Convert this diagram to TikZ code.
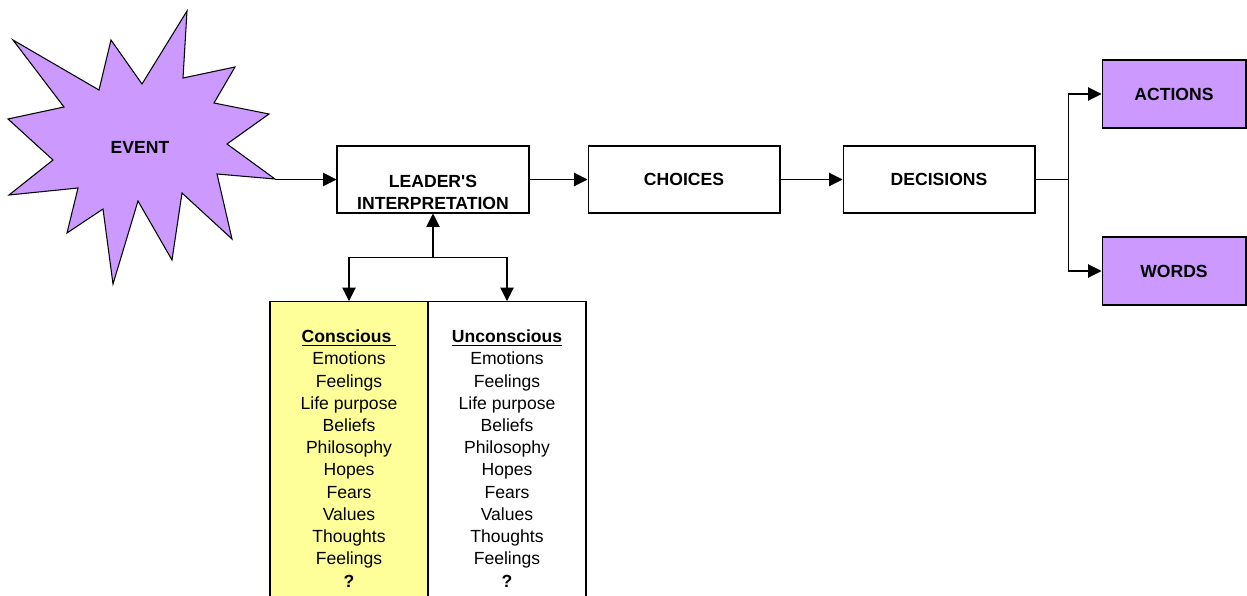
\documentclass[tikz,border=0pt]{standalone}
\usepackage{fontspec}
\setmainfont{Liberation Sans}
\usetikzlibrary{arrows.meta,positioning}

\definecolor{eventpurple}{HTML}{CC99FF}
\definecolor{consyellow}{HTML}{FFFF99}

\tikzset{
  procbox/.style={draw,line width=0.6pt,minimum width=3.84cm,minimum height=1.34cm,inner sep=0pt,font=\bfseries},
  outbox/.style={procbox,fill=eventpurple,minimum width=2.88cm,minimum height=1.36cm},
  colbox/.style={draw,line width=0.6pt,anchor=north,minimum width=3.16cm,minimum height=6.4cm},
  coltext/.style={anchor=north,align=center,inner sep=0pt,font=\fontsize{10}{12.65}\selectfont},
  link/.style={line width=0.6pt,-{Triangle[length=7.6pt,width=7.6pt]}}
}

\begin{document}
\begin{tikzpicture}[x=0.02cm,y=-0.02cm]
  \clip (0,0) rectangle (1247,595);
  \fill[white] (0,0) rectangle (1247,595);
  \draw[fill=eventpurple,line width=0.6pt] (13,40) -- (99,90) -- (111,40) -- (142,84) -- (187,11) -- (183,78) -- (235,67) -- (214,103) -- (269,114) -- (227,144) -- (275,179) -- (217,174) -- (232,239) -- (182,193) -- (172,260) -- (138,201) -- (113,284) -- (103,209) -- (67,233) -- (78,188) -- (9,195) -- (53,160) -- (8,119) -- (64,107) -- cycle;
  \node[font=\bfseries] (event) at (140,147) {EVENT};
  \coordinate (eventtip) at (275,179.5);
  \node[procbox] (leader) at (433,179.5) {};
  \node[font=\fontsize{10}{12.5}\selectfont\bfseries,align=center] (leadertext) at ([yshift=-0.25cm]leader.center) {LEADER\textquotesingle S\\INTERPRETATION};
  \node[procbox] (choices) at (684,179.5) {CHOICES};
  \node[procbox] (decisions) at (939,179.5) {DECISIONS};
  \node[outbox] (actions) at (1174,94) {ACTIONS};
  \node[outbox] (words) at (1174,271) {WORDS};
  \node[colbox,fill=consyellow] (cons) at (349,301) {};
  \node[colbox] (uncons) at (507,301) {};
  \node[coltext] (conslist) at (349,329.5) {\underline{\textbf{Conscious\ }}\\Emotions\\Feelings\\Life purpose\\Beliefs\\Philosophy\\Hopes\\Fears\\Values\\Thoughts\\Feelings\\\textbf{?}};
  \node[coltext] (unconslist) at (507,329.5) {\underline{\textbf{Unconscious}}\\Emotions\\Feelings\\Life purpose\\Beliefs\\Philosophy\\Hopes\\Fears\\Values\\Thoughts\\Feelings\\\textbf{?}};
  \coordinate (split) at ([yshift=-0.88cm]leader.south);
  \draw[link] (eventtip) -- (leader);
  \draw[link] (leader) -- (choices);
  \draw[link] (choices) -- (decisions);
  \draw[link] (decisions.east) -- ++(33,0) |- (actions.west);
  \draw[link] (decisions.east) -- ++(33,0) |- (words.west);
  \draw[link] (split) -- (leader.south);
  \draw[link] (split) -| (cons.north);
  \draw[link] (split) -| (uncons.north);
\end{tikzpicture}
\end{document}
